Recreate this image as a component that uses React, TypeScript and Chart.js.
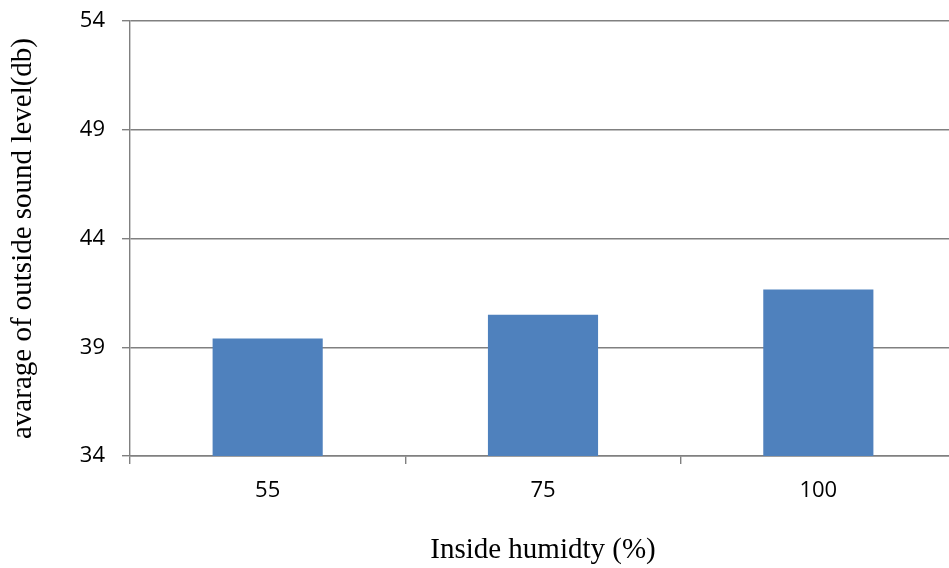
import React, { useEffect, useRef } from "react";
import { Chart, registerables } from "chart.js";

Chart.register(...registerables);

const humidityLabels = ["55", "75", "100"];
const soundLevels = [39.4, 40.5, 41.65];
const yMin = 34;
const yMax = 54;
const yStep = 5;

const GRID = "#808080";
const BAR = "#4F81BD";

export default function App() {
  const ref = useRef<HTMLCanvasElement | null>(null);

  useEffect(() => {
    document.body.style.margin = "0";
    const ctx = ref.current;
    if (!ctx) return;
    const chart = new Chart(ctx, {
      type: "bar",
      data: {
        labels: humidityLabels,
        datasets: [
          {
            data: soundLevels,
            backgroundColor: BAR,
            borderWidth: 0,
            categoryPercentage: 1,
            barPercentage: 0.4,
          },
        ],
      },
      options: {
        animation: false,
        responsive: false,
        maintainAspectRatio: false,
        layout: { padding: { top: 21, right: 0, bottom: 0, left: 0 } },
        plugins: { legend: { display: false }, tooltip: { enabled: false } },
        scales: {
          x: {
            offset: true,
            grid: {
              offset: true,
              drawOnChartArea: false,
              color: GRID,
              tickLength: 8,
              lineWidth: 1.4,
            },
            border: { color: GRID, width: 1.4 },
            ticks: {
              color: "#000",
              padding: 14,
              font: { family: "Open Sans", size: 22 },
            },
            title: {
              display: true,
              text: "Inside humidty (%)",
              color: "#000",
              font: { family: "Liberation Serif", size: 29 },
              padding: { top: 0, bottom: 0 },
            },
            afterFit: (s: any) => {
              s.height = 112;
              s.paddingLeft = 0;
              s.paddingRight = 0;
            },
          },
          y: {
            min: yMin,
            max: yMax,
            grid: { color: GRID, tickLength: 8, lineWidth: 1.4 },
            border: { color: GRID, width: 1.4 },
            ticks: {
              stepSize: yStep,
              color: "#000",
              padding: 17,
              font: { family: "Open Sans", size: 22 },
            },
            title: {
              display: true,
              text: "avarage of outside sound level(db)",
              color: "#000",
              font: { family: "Liberation Serif", size: 29 },
              padding: { top: 6, bottom: 0 },
            },
            afterFit: (s: any) => {
              s.width = 130;
              s.paddingTop = 0;
              s.paddingBottom = 0;
            },
          },
        },
      },
    });
    return () => chart.destroy();
  }, []);

  return (
    <div style={{ width: 949, height: 568, overflow: "hidden", background: "#fff" }}>
      <canvas ref={ref} width={956} height={568} style={{ width: 956, height: 568, display: "block" }} />
    </div>
  );
}
